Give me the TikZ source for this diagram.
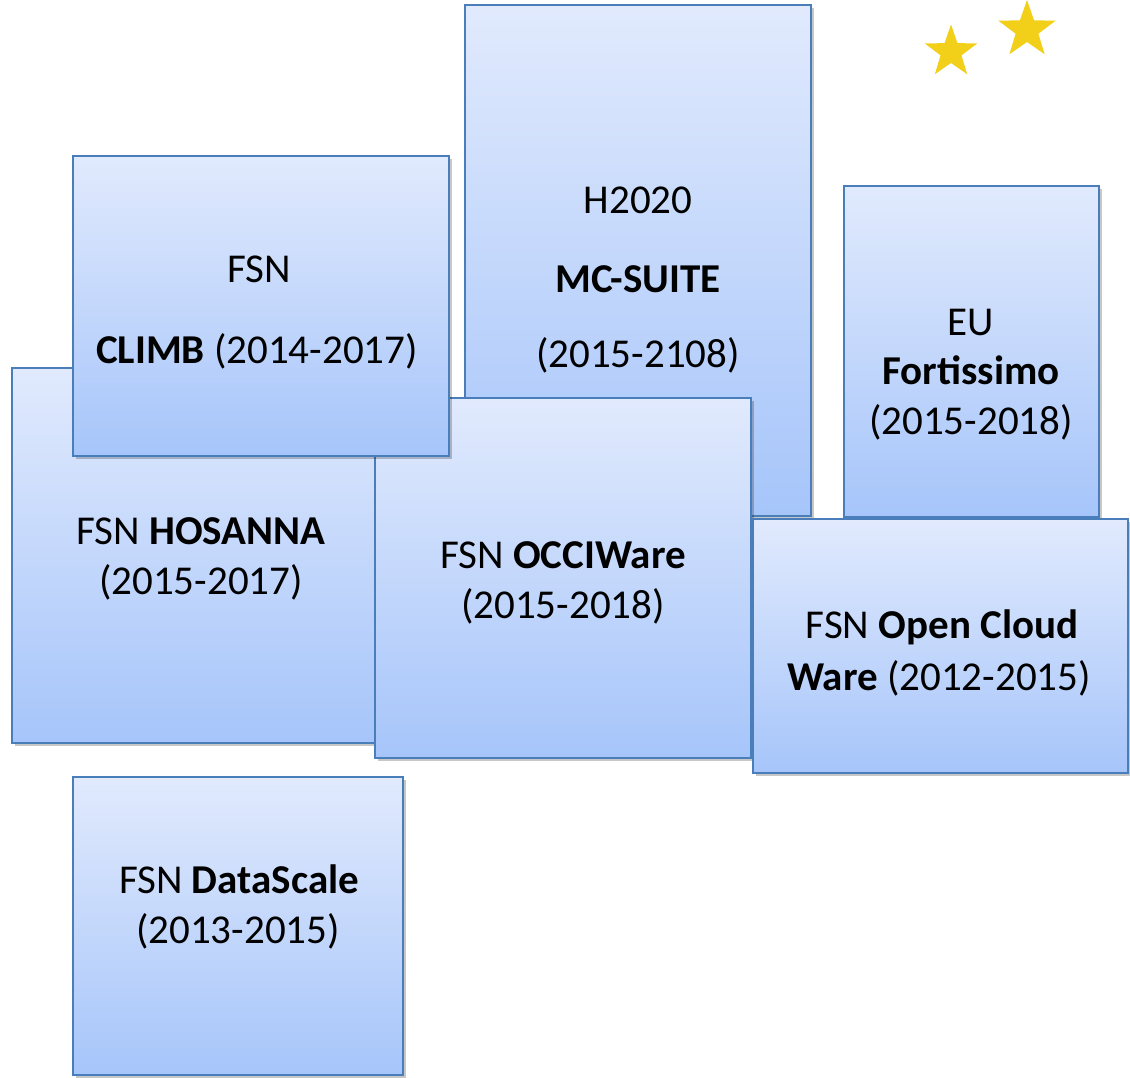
\documentclass[tikz,border=0pt]{standalone}
\usepackage{fontspec}
\setmainfont{Carlito}
\usetikzlibrary{shadows,shapes.geometric}
\definecolor{boxtop}{RGB}{225,234,253}
\definecolor{boxbot}{RGB}{166,197,250}
\definecolor{boxline}{RGB}{74,126,187}
\definecolor{stary}{RGB}{242,208,26}
\begin{document}
\begin{tikzpicture}[x=1pt,y=-1pt,
  box/.style={rectangle, draw=boxline, line width=2pt, top color=boxtop, bottom color=boxbot,
    inner sep=0pt, drop shadow={shadow xshift=3pt, shadow yshift=-3pt, fill=black, opacity=0.22}},
  txt/.style={anchor=base, inner sep=0pt, font=\fontsize{41}{49}\selectfont},
  starshape/.style={star, star points=5, star point ratio=2.5, fill=stary, draw=none, inner sep=0pt}]
\fill[white] (0,0) rectangle (1130,1078);
\useasboundingbox (0,0) rectangle (1130,1078);

% stars
\node[starshape, minimum size=55pt] (s1) at (951,52) {};
\node[starshape, minimum size=60pt] (s2) at (1027,30) {};

% MC-SUITE
\node[box, minimum width=346pt, minimum height=511pt] (mc) at (638,260.5) {};
\node[txt] (mc1) at (638,214) {H2020};
\node[txt] (mc2) at (638,292) {\bfseries MC-SUITE};
\node[txt] (mc3) at (638,367) {(2015-2108)};

% Fortissimo
\node[box, minimum width=255pt, minimum height=331pt] (fort) at (971.5,351.5) {};
\node[txt] (f1) at (971,335) {EU};
\node[txt] (f2) at (971,384) {\bfseries Fortissimo};
\node[txt] (f3) at (971,434) {(2015-2018)};

% HOSANNA
\node[box, minimum width=367pt, minimum height=375pt] (hos) at (195.5,555.5) {};
\node[txt] (h1) at (201,544) {FSN \textbf{HOSANNA}};
\node[txt] (h2) at (201,594) {(2015-2017)};

% OCCIWare
\node[box, minimum width=376pt, minimum height=360pt] (occi) at (563,578) {};
\node[txt] (o1) at (563,568) {FSN \textbf{OCCIWare}};
\node[txt] (o2) at (563,618) {(2015-2018)};

% CLIMB
\node[box, minimum width=376pt, minimum height=300pt] (climb) at (261,306) {};
\node[txt] (c1) at (259,283) {FSN};
\node[txt] (c2) at (257,363) {\textbf{CLIMB} (2014-2017)};

% Open Cloud Ware
\node[box, minimum width=375pt, minimum height=254pt] (ocw) at (940.5,646) {};
\node[txt] (w1) at (942,638) {FSN \textbf{Open Cloud}};
\node[txt] (w2) at (939,690) {\textbf{Ware} (2012-2015)};

% DataScale
\node[box, minimum width=330pt, minimum height=298pt] (ds) at (238,926) {};
\node[txt] (d1) at (239,893) {FSN \textbf{DataScale}};
\node[txt] (d2) at (238,943) {(2013-2015)};
\end{tikzpicture}
\end{document}
